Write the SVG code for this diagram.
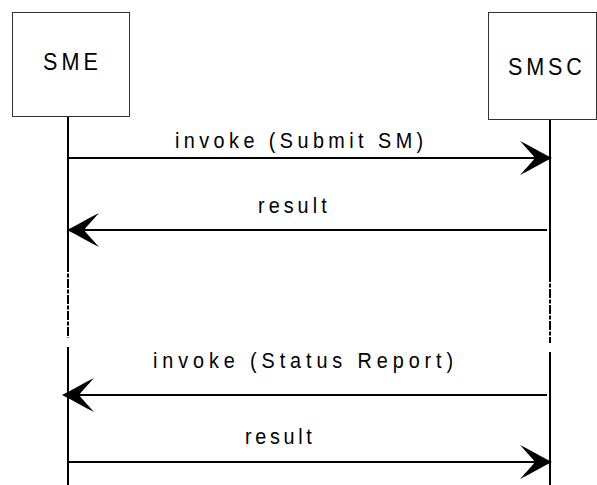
<svg xmlns="http://www.w3.org/2000/svg" width="597" height="485" viewBox="0 0 597 485">
  <style>
    .box { fill: #ffffff; stroke: #333333; stroke-width: 1; }
    .life { stroke: #000000; stroke-width: 2; fill: none; }
    .broken { stroke: #000000; stroke-width: 2; fill: none; stroke-dasharray: 9 1.5 4 1.5; }
    .msg { stroke: #000000; stroke-width: 2; fill: none; }
    .head { fill: #000000; stroke: none; }
    .name { font-family: "Liberation Sans", Arial, sans-serif; font-size: 24.5px; fill: #000000; }
    .lbl { font-family: "Liberation Sans", Arial, sans-serif; font-size: 22.5px; fill: #000000; }
  </style>
  <defs>
    <path id="hd" d="M0,0 C-10,-5 -22,-12 -32,-17 C-25,-9 -20,-4 -17,0 C-20,4 -25,9 -32,17 C-22,12 -10,5 0,0 Z"/>
  </defs>
  <rect width="597" height="485" fill="#ffffff"/>

  <g id="lifelines">
    <line class="life" x1="68" y1="117" x2="68" y2="263"/>
    <line class="broken" x1="68" y1="263" x2="68" y2="338"/>
    <line class="life" x1="68" y1="347" x2="68" y2="485"/>
    <line class="life" x1="550" y1="120" x2="550" y2="273"/>
    <line class="broken" x1="550" y1="273" x2="550" y2="343"/>
    <line class="life" x1="550" y1="352" x2="550" y2="485"/>
  </g>

  <g id="SME">
    <rect class="box" x="12.5" y="12.5" width="117" height="104"/>
    <text class="name" transform="translate(43,69.5) scale(0.88,1)" textLength="62.5" lengthAdjust="spacing">SME</text>
  </g>

  <g id="SMSC">
    <rect class="box" x="488.5" y="12.5" width="108" height="107"/>
    <text class="name" transform="translate(508,75) scale(0.88,1)" textLength="84" lengthAdjust="spacing">SMSC</text>
  </g>

  <g id="connectors">
    <line class="msg" x1="68" y1="158" x2="540" y2="158"/>
    <use href="#hd" class="head" transform="translate(552,158)"/>
    <text class="lbl" transform="translate(175,148) scale(0.88,1)" textLength="282" lengthAdjust="spacing">invoke (Submit SM)</text>

    <line class="msg" x1="78" y1="230" x2="547" y2="230"/>
    <use href="#hd" class="head" transform="translate(67,230) rotate(180)"/>
    <text class="lbl" transform="translate(258,213) scale(0.88,1)" textLength="78" lengthAdjust="spacing">result</text>

    <line class="msg" x1="78" y1="395" x2="547" y2="395"/>
    <use href="#hd" class="head" transform="translate(62,395) rotate(180)"/>
    <text class="lbl" transform="translate(153,368) scale(0.88,1)" textLength="341" lengthAdjust="spacing">invoke (Status Report)</text>

    <line class="msg" x1="68" y1="462" x2="540" y2="462"/>
    <use href="#hd" class="head" transform="translate(552,462)"/>
    <text class="lbl" transform="translate(245,444) scale(0.88,1)" textLength="76" lengthAdjust="spacing">result</text>
  </g>
</svg>
